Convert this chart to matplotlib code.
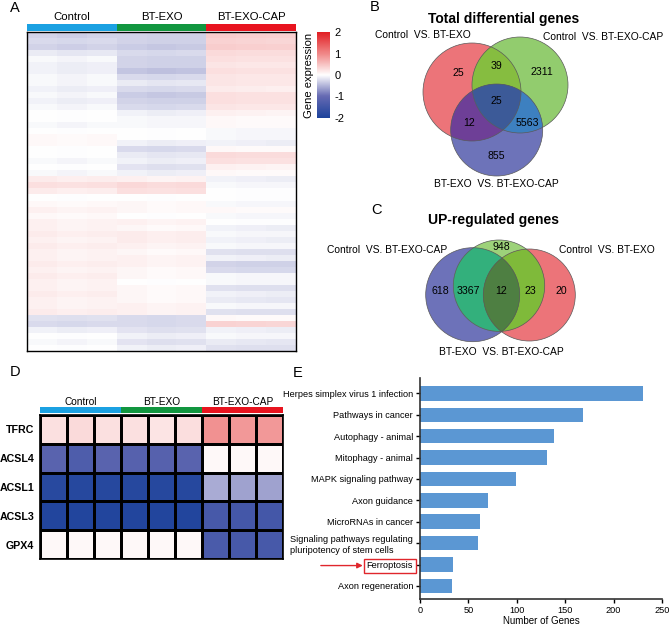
import numpy as np
import matplotlib
matplotlib.use('Agg')
import matplotlib.pyplot as plt
from matplotlib.colors import LinearSegmentedColormap, ListedColormap
from matplotlib.patches import Circle, Polygon

plt.rcParams['font.family'] = ['Liberation Sans', 'DejaVu Sans']
plt.rcParams['axes.unicode_minus'] = False

# ---- data ----
groups = ['Control', 'BT-EXO', 'BT-EXO-CAP']
group_colors = ['#1ba1e2', '#11963f', '#e8141f']

# panel A: row-band means per group (z-score), top to bottom
ctrl_rows = [-0.30, -0.25, -0.30, -0.15, -0.05, -0.10, -0.10, -0.05, -0.05, -0.10,
             -0.05, -0.10, -0.05, 0.00, 0.00, -0.05, 0.00, 0.05, 0.05, 0.00,
             0.00, -0.05, 0.00, -0.05, 0.15, 0.25, 0.15, 0.00, 0.05, 0.10,
             0.05, 0.10, 0.10, 0.15, 0.10, 0.15, 0.10, 0.10, 0.15, 0.10,
             0.15, 0.10, 0.10, 0.15, 0.10, 0.10, 0.15, -0.20, -0.25, -0.10,
             0.00, -0.05, 0.00]
exo_rows = [-0.30, -0.30, -0.35, -0.25, -0.30, -0.30, -0.40, -0.25, -0.15, -0.25,
            -0.35, -0.30, -0.25, -0.10, -0.05, -0.05, 0.00, 0.00, -0.10, -0.25,
            -0.15, -0.10, -0.20, -0.10, 0.10, 0.30, 0.25, 0.00, 0.05, 0.05,
            0.00, 0.10, 0.05, 0.15, 0.15, 0.10, 0.05, 0.10, 0.10, 0.05,
            0.05, 0.00, 0.05, 0.05, 0.05, 0.10, 0.10, -0.25, -0.25, -0.20,
            -0.10, -0.20, -0.10]
cap_rows = [0.40, 0.35, 0.40, 0.30, 0.25, 0.20, 0.25, 0.20, 0.20, 0.15,
            0.25, 0.25, 0.20, 0.10, 0.05, 0.05, -0.05, -0.05, -0.10, 0.05,
            0.30, 0.25, 0.10, 0.05, -0.10, -0.05, 0.00, 0.00, -0.05, 0.05,
            -0.05, 0.00, -0.10, -0.05, -0.10, -0.05, -0.20, -0.10, -0.30, -0.25,
            -0.05, -0.05, -0.20, -0.10, -0.15, -0.05, -0.20, 0.05, 0.35, -0.10,
            -0.05, -0.15, -0.20]
sample_shift = [0.01, -0.015, 0.005, 0.015, -0.01, 0.00, 0.01, -0.005, -0.01]

# panel D
genes = ['TFRC', 'ACSL4', 'ACSL1', 'ACSL3', 'GPX4']
tfrc = [0.25, 0.30, 0.25, 0.25, 0.22, 0.27, 0.92, 0.85, 0.85]
acsl4 = [-1.15, -1.30, -1.15, -1.20, -1.20, -1.15, 0.05, 0.05, 0.05]
acsl1 = [-1.82, -1.85, -1.85, -1.85, -1.85, -1.85, -0.55, -0.62, -0.62]
acsl3 = [-1.92, -1.92, -1.92, -1.92, -1.92, -1.92, -1.40, -1.45, -1.45]
gpx4 = [0.05, 0.05, 0.05, 0.05, 0.05, 0.05, -1.35, -1.40, -1.40]

# panel B / C venn counts
b_sets = ['Control  VS. BT-EXO', 'Control  VS. BT-EXO-CAP', 'BT-EXO  VS. BT-EXO-CAP']
b_counts = {'100': 25, '010': 2311, '001': 855, '110': 39, '101': 12, '011': 5563, '111': 25}
c_sets = ['Control  VS. BT-EXO-CAP', 'BT-EXO  VS. BT-EXO-CAP', 'Control  VS. BT-EXO']
c_counts = {'100': 618, '010': 948, '001': 20, '110': 3367, '011': 23, '111': 12}

# panel E
pathways = ['Herpes simplex virus 1 infection', 'Pathways in cancer', 'Autophagy - animal',
            'Mitophagy - animal', 'MAPK signaling pathway', 'Axon guidance',
            'MicroRNAs in cancer', 'Signaling pathways regulating\npluripotency of stem cells',
            'Ferroptosis', 'Axon regeneration']
gene_counts = [230, 168, 138, 131, 99, 70, 62, 60, 34, 33]

# ---- figure ----
W, H = 669, 626
fig = plt.figure(figsize=(W / 100, H / 100), dpi=100)


def px_axes(x0, y0, x1, y1):
    return fig.add_axes([x0 / W, 1 - y1 / H, (x1 - x0) / W, (y1 - y0) / H])


cmap = LinearSegmentedColormap.from_list(
    'expr', [(0, '#1c429b'), (0.25, '#6469b2'), (0.5, '#ffffff'), (0.75, '#f08787'), (1, '#e11e23')])
group_cmap = ListedColormap(group_colors)

# panel A
ax_a = px_axes(27, 32, 296, 351)
cols = []
for g, rows in enumerate([ctrl_rows, exo_rows, cap_rows]):
    for k in range(3):
        cols.append(np.array(rows) + sample_shift[3 * g + k])
mat_a = np.column_stack(cols)
im = ax_a.imshow(mat_a, cmap=cmap, vmin=-2, vmax=2, aspect='auto', interpolation='nearest')
ax_a.set_xticks([])
ax_a.set_yticks([])
for s in ax_a.spines.values():
    s.set_linewidth(1.0)

ax_ga = px_axes(27, 24, 296, 31)
ax_ga.imshow([[0, 1, 2]], cmap=group_cmap, aspect='auto', extent=[0, 9, 0, 1])
ax_ga.axis('off')
for i, g in enumerate(groups):
    ax_ga.text((3 * i + 1.5) / 9, 2.0, g, transform=ax_ga.transAxes,
               ha='center', va='center', fontsize=8.2)

cax = px_axes(317, 32, 330, 118)
cb = fig.colorbar(im, cax=cax, ticks=[-2, -1, 0, 1, 2])
cb.outline.set_visible(False)
cax.tick_params(length=0, pad=3, labelsize=8)
cax.set_yticklabels(['-2', '-1', '0', '1', '2'])
cax.set_ylabel('Gene expression', fontsize=8.1, labelpad=2)
cax.yaxis.set_label_position('left')

# panel D
ax_d = px_axes(40, 415, 283, 559)
mat_d = np.array([tfrc, acsl4, acsl1, acsl3, gpx4])
ax_d.pcolormesh(mat_d, cmap=cmap, vmin=-2, vmax=2, edgecolors='black', linewidth=1.0)
ax_d.set_xlim(0, 9)
ax_d.set_ylim(len(genes), 0)
ax_d.set_xticks([])
ax_d.set_yticks(np.arange(len(genes)) + 0.5)
ax_d.set_yticklabels(genes, fontsize=7.7, fontweight='bold')
ax_d.tick_params(axis='y', length=0, pad=4)
for s in ax_d.spines.values():
    s.set_linewidth(1.2)

ax_gd = px_axes(40, 406.7, 283, 412.7)
ax_gd.imshow([[0, 1, 2]], cmap=group_cmap, aspect='auto', extent=[0, 9, 0, 1])
ax_gd.axis('off')
for i, g in enumerate(groups):
    ax_gd.text((3 * i + 1.5) / 9, 1.85, g, transform=ax_gd.transAxes,
               ha='center', va='center', fontsize=7.3)


# panels B and C (venn)
def lens_xy(c1, r1, c2, r2, n=1440):
    t = np.linspace(0, 2 * np.pi, n, endpoint=False)
    parts = []
    for (ca, ra), (cb_, rb) in [((c1, r1), (c2, r2)), ((c2, r2), (c1, r1))]:
        p = np.c_[ca[0] + ra * np.cos(t), ca[1] + ra * np.sin(t)]
        inside = np.hypot(p[:, 0] - cb_[0], p[:, 1] - cb_[1]) < rb
        k = np.argmin(inside)
        p = np.roll(p, -k, axis=0)
        inside = np.roll(inside, -k)
        parts.append(p[inside])
    return np.vstack(parts)


def venn3(ax, centers, radii, colors, pair_colors, triple_color):
    for c, r, col in zip(centers, radii, colors):
        ax.add_patch(Circle(c, r, facecolor=col, edgecolor='none'))
    for (i, j), col in pair_colors.items():
        clip = Circle(centers[i], radii[i], transform=ax.transData)
        p = Circle(centers[j], radii[j], facecolor=col, edgecolor='none')
        ax.add_patch(p)
        p.set_clip_path(clip)
    lens = Polygon(lens_xy(centers[0], radii[0], centers[1], radii[1]), closed=True,
                   transform=ax.transData)
    p = Circle(centers[2], radii[2], facecolor=triple_color, edgecolor='none')
    ax.add_patch(p)
    p.set_clip_path(lens)
    for c, r in zip(centers, radii):
        ax.add_patch(Circle(c, r, facecolor='none', edgecolor='#5a5a5a', linewidth=0.5))


ax_v = px_axes(340, 0, 669, 380)
ax_v.set_xlim(340, 669)
ax_v.set_ylim(380, 0)
ax_v.axis('off')

venn3(ax_v, [(472, 92), (520, 85), (496.7, 130)], [49, 48, 46],
      ['#ec7479', '#92cc6e', '#6d73b9'],
      {(0, 1): '#86bd40', (0, 2): '#6e3f97', (1, 2): '#3d80c0'}, '#3c5a98')
b_pos = {'100': (458.3, 72.7), '010': (541.7, 71.7), '001': (496.7, 156),
         '110': (496.7, 66), '101': (469.3, 122.7), '011': (527.3, 122.7), '111': (496.7, 100.7)}
for key, v in b_counts.items():
    ax_v.text(*b_pos[key], str(v), ha='center', va='center', fontsize=7.6)
ax_v.text(503.3, 19, 'Total differential genes', ha='center', va='center',
          fontsize=10, fontweight='bold')
ax_v.text(423.3, 35, b_sets[0], ha='center', va='center', fontsize=7.4)
ax_v.text(603.3, 36.7, b_sets[1], ha='center', va='center', fontsize=7.4)
ax_v.text(496.7, 184, b_sets[2], ha='center', va='center', fontsize=7.4)

venn3(ax_v, [(472.7, 294.7), (499, 285.7), (529.3, 295)], [47, 45.7, 46],
      ['#6d72b9', '#9dd27a', '#ec7479'],
      {(0, 1): '#33b07c', (1, 2): '#7fba3a', (0, 2): '#4e7f42'}, '#4e7f42')
c_pos = {'100': (440, 291.5), '010': (501, 247.3), '001': (561, 291.5),
         '110': (468.3, 291.5), '011': (530, 291.5), '111': (501, 291.5)}
for key, v in c_counts.items():
    ax_v.text(*c_pos[key], str(v), ha='center', va='center', fontsize=7.6)
ax_v.text(493.3, 220, 'UP-regulated genes', ha='center', va='center',
          fontsize=10, fontweight='bold')
ax_v.text(447.5, 250, c_sets[0], ha='right', va='center', fontsize=7.4)
ax_v.text(501.7, 351.7, c_sets[1], ha='center', va='center', fontsize=7.4)
ax_v.text(607.3, 250, c_sets[2], ha='center', va='center', fontsize=7.4)

# panel E
ax_e = px_axes(420, 378, 662, 599)
ypos = np.arange(len(pathways))
ax_e.barh(ypos, gene_counts, height=0.68, color='#5b97d3')
ax_e.set_ylim(len(pathways) - 1 + 0.61, -0.72)
ax_e.set_xlim(0, 250)
ax_e.set_xticks([0, 50, 100, 150, 200, 250])
ax_e.set_yticks(ypos)
ax_e.set_yticklabels(pathways, fontsize=6.6)
ax_e.tick_params(axis='x', labelsize=6.6, length=3, width=1, pad=2)
ax_e.tick_params(axis='y', length=3, width=1, pad=2)
ax_e.set_xlabel('Number of Genes', fontsize=7, labelpad=1)
for side in ['top', 'right']:
    ax_e.spines[side].set_visible(False)
for side in ['left', 'bottom']:
    ax_e.spines[side].set_linewidth(1.2)
    ax_e.spines[side].set_color('#333333')
labels = ax_e.get_yticklabels()
labels[7].set_multialignment('left')
ferro = labels[8]
ferro.set_bbox(dict(facecolor='none', edgecolor='#e0262c', linewidth=1, pad=1.8))
ax_e.annotate('', xy=(0, 0.5), xycoords=ferro, xytext=(-33, 0), textcoords='offset points',
              arrowprops=dict(arrowstyle='-|>', color='#e0262c', lw=1, shrinkA=0, shrinkB=2.8,
                              mutation_scale=8))

# panel letters
for lab, (x, y) in {'A': (15, 8), 'B': (375, 7), 'C': (377, 210), 'D': (15, 372),
                    'E': (298, 373)}.items():
    fig.text(x / W, 1 - y / H, lab, ha='center', va='center', fontsize=10.5)

fig.savefig('out.png', dpi=100)
